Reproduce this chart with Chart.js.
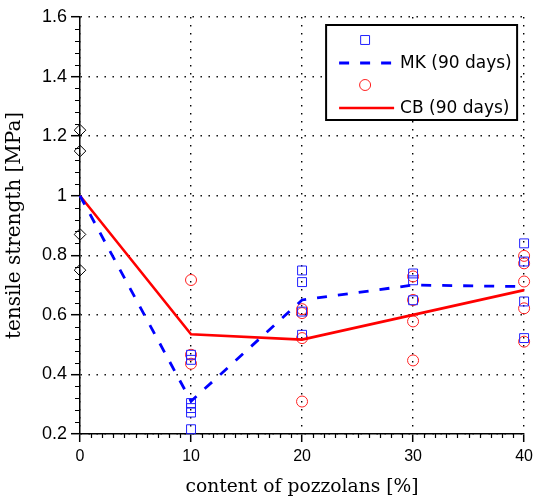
<!DOCTYPE html>
<html><head><meta charset="utf-8">
<script src="https://cdn.jsdelivr.net/npm/chart.js@4"></script>
<style>html,body{margin:0;padding:0;background:#fff}#wrap{width:538px;height:501px}</style>
</head><body><div id="wrap"><canvas id="c" width="538" height="501"></canvas></div>
<script>
// ---- data ----
const contents = [0, 10, 20, 30, 40];            // content of pozzolans [%]
const mkMean = [1.0, 0.31, 0.65, 0.70, 0.695];   // MK (90 days) mean line
const cbMean = [1.0, 0.535, 0.517, 0.60, 0.683]; // CB (90 days) mean line
const refValues = [1.22, 1.15, 0.87, 0.75];      // reference samples at 0 %
const mkAt10 = [0.466, 0.449, 0.304, 0.287, 0.272, 0.216];
const mkAt20 = [0.749, 0.710, 0.611, 0.533];
const mkAt30 = [0.739, 0.716, 0.649];
const mkAt40 = [0.840, 0.779, 0.645, 0.522];
const cbAt10 = [0.717, 0.466, 0.436];
const cbAt20 = [0.619, 0.606, 0.522, 0.309];
const cbAt30 = [0.729, 0.650, 0.578, 0.447];
const cbAt40 = [0.798, 0.773, 0.712, 0.622, 0.510];
const xTickValues = [0, 10, 20, 30, 40];
const yTickValues = [0.2, 0.4, 0.6, 0.8, 1.0, 1.2, 1.4, 1.6];
const xTitle = 'content of pozzolans [%]';
const yTitle = 'tensile strength [MPa]';
const mkLabel = 'MK (90 days)';
const cbLabel = 'CB (90 days)';

// ---- build library data ----
const pts = (x, arr) => arr.map(v => ({x: x, y: v}));
const mkPoints = [].concat(pts(10, mkAt10), pts(20, mkAt20), pts(30, mkAt30), pts(40, mkAt40));
const cbPoints = [].concat(pts(10, cbAt10), pts(20, cbAt20), pts(30, cbAt30), pts(40, cbAt40));
const refPoints = pts(0, refValues);
const mkLine = contents.map((c, i) => ({x: c, y: mkMean[i]}));
const cbLine = contents.map((c, i) => ({x: c, y: cbMean[i]}));

const BLUE = '#0000ff', RED = '#ff0000';
const X_TICK_FONT = {family: 'Liberation Sans', size: 16};
const Y_TICK_FONT = {family: 'Liberation Sans', size: 18};
const X_TITLE_FONT = {family: 'DejaVu Serif', size: 18.7};
const Y_TITLE_FONT = {family: 'DejaVu Serif', size: 20};

const minorTicks = {
  id: 'minorTicks',
  afterDraw(chart) {
    const ctx = chart.ctx, xs = chart.scales.x, ys = chart.scales.y;
    const ca = chart.chartArea;
    ctx.save();
    ctx.strokeStyle = '#000';
    ctx.lineWidth = 1.2;
    ctx.beginPath();
    for (let v = xs.min; v <= xs.max; v += 1) {
      if (v % 10 === 0) continue;
      const px = Math.round(xs.getPixelForValue(v)) + 0.5;
      ctx.moveTo(px, ca.bottom); ctx.lineTo(px, ca.bottom + 4);
    }
    for (let k = 0; k <= 35; k++) {
      if (k % 5 === 0) continue;
      const v = ys.min + k * 0.04;
      const py = Math.round(ys.getPixelForValue(v)) + 0.5;
      ctx.moveTo(ca.left - 5, py); ctx.lineTo(ca.left, py);
    }
    ctx.stroke();
    ctx.restore();
  }
};

const boxLegend = {
  id: 'boxLegend',
  afterDraw(chart) {
    const ctx = chart.ctx, ca = chart.chartArea;
    const x0 = ca.right - 198, y0 = ca.top + 8, w = 191, h = 95;
    ctx.save();
    ctx.fillStyle = '#fff';
    ctx.fillRect(x0, y0, w, h);
    ctx.strokeStyle = '#000';
    ctx.lineWidth = 2;
    ctx.strokeRect(x0, y0, w, h);
    ctx.restore();
    const ds = chart.data.datasets;
    const mx = x0 + 39;
    const drawMarker = (d, y) => {
      ctx.save();
      ctx.strokeStyle = d.pointBorderColor;
      ctx.fillStyle = 'rgba(0,0,0,0)';
      ctx.lineWidth = d.pointBorderWidth;
      Chart.helpers.drawPoint(ctx, {pointStyle: d.pointStyle, radius: d.pointRadius, borderWidth: d.pointBorderWidth}, mx, y);
      ctx.restore();
    };
    const drawLineItem = (d, y, text) => {
      ctx.save();
      ctx.strokeStyle = d.borderColor;
      ctx.lineWidth = d.borderWidth;
      ctx.setLineDash(d.borderDash || []);
      ctx.beginPath(); ctx.moveTo(x0 + 13, y); ctx.lineTo(x0 + 68, y); ctx.stroke();
      ctx.restore();
      ctx.save();
      ctx.fillStyle = '#000';
      ctx.font = '17px "DejaVu Sans"';
      ctx.textBaseline = 'middle';
      ctx.textAlign = 'left';
      ctx.fillText(text, x0 + 74, y + 1);
      ctx.restore();
    };
    drawMarker(ds[2], y0 + 15);
    drawLineItem(ds[0], y0 + 38, ds[0].label);
    drawMarker(ds[3], y0 + 60);
    drawLineItem(ds[1], y0 + 83, ds[1].label);
  }
};

new Chart(document.getElementById('c'), {
  type: 'scatter',
  data: {
    datasets: [
      {type: 'line', label: mkLabel, data: mkLine, borderColor: BLUE, backgroundColor: BLUE,
       borderWidth: 2.8, borderDash: [10, 11], pointRadius: 0, tension: 0, fill: false, clip: false},
      {type: 'line', label: cbLabel, data: cbLine, borderColor: RED, backgroundColor: RED,
       borderWidth: 2.6, pointRadius: 0, tension: 0, fill: false, clip: false},
      {label: '', data: mkPoints, pointStyle: 'rect', pointRadius: 6.3, pointBorderWidth: 1,
       pointBorderColor: '#2020ff', pointBackgroundColor: 'rgba(0,0,0,0)', clip: false},
      {label: '', data: cbPoints, pointStyle: 'circle', pointRadius: 5.5, pointBorderWidth: 1,
       pointBorderColor: '#ff2020', pointBackgroundColor: 'rgba(0,0,0,0)', clip: false},
      {label: '', data: refPoints, pointStyle: 'rectRot', pointRadius: 5.8, pointBorderWidth: 1,
       pointBorderColor: '#000', pointBackgroundColor: 'rgba(0,0,0,0)', clip: false}
    ]
  },
  options: {
    responsive: false,
    animation: false,
    devicePixelRatio: 1,
    layout: {padding: {top: 17, right: 11, left: 0, bottom: 0}},
    plugins: {legend: {display: false}, tooltip: {enabled: false}},
    scales: {
      x: {
        type: 'linear', min: 0, max: 40,
        afterBuildTicks: s => { s.ticks = xTickValues.map(v => ({value: v})); },
        afterFit: s => { s.height = 67; },
        ticks: {color: '#000', font: X_TICK_FONT, padding: 5, maxRotation: 0,
                callback: v => String(v)},
        grid: {color: '#000', lineWidth: 1.4, tickLength: 8, tickColor: '#000', tickWidth: 1.5},
        border: {display: true, color: '#000', width: 1.5, dash: [1.4, 6.6]},
        title: {display: true, text: xTitle, color: '#000', font: X_TITLE_FONT, padding: {top: 2, bottom: 3}}
      },
      y: {
        type: 'linear', min: 0.2, max: 1.6,
        afterBuildTicks: s => { s.ticks = yTickValues.map(v => ({value: v})); },
        afterFit: s => { s.width = 80; },
        ticks: {color: '#000', font: Y_TICK_FONT, padding: 4,
                callback: v => String(Number(v.toFixed(1)))},
        grid: {color: '#000', lineWidth: 1.4, tickLength: 9, tickColor: '#000', tickWidth: 1.5},
        border: {display: true, color: '#000', width: 1.5, dash: [1.4, 6.6]},
        title: {display: true, text: yTitle, color: '#000', font: Y_TITLE_FONT, padding: {top: 3, bottom: 4}}
      }
    }
  },
  plugins: [minorTicks, boxLegend]
});
</script>
</body></html>
